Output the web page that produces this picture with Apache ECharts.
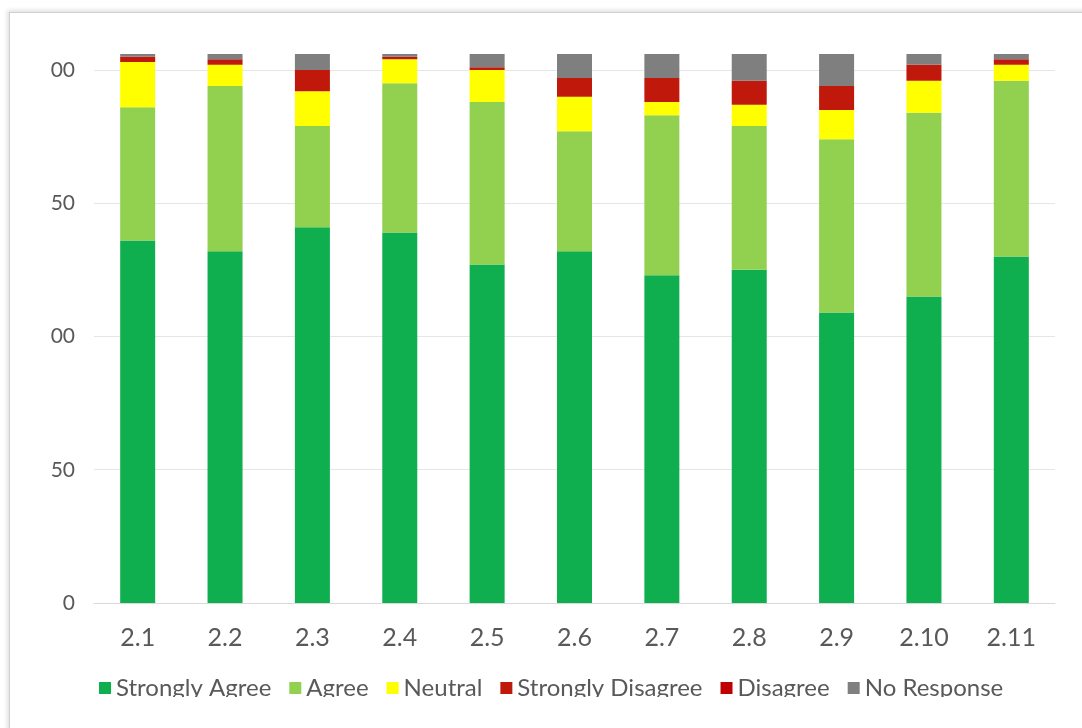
<!DOCTYPE html>
<html>
<head>
<meta charset="utf-8">
<script src="https://cdn.jsdelivr.net/npm/echarts@6/dist/echarts.min.js"></script>
<style>
html,body{margin:0;padding:0;background:#fff;}
#frame{position:absolute;left:9px;top:12px;width:1120px;height:760px;border:1px solid #cfcfcf;box-shadow:-2px -2px 4px rgba(0,0,0,0.12);background:#fff;}
#chart{position:absolute;left:0;top:0;width:1082px;height:728px;}
#clip{position:absolute;left:10px;top:697px;width:1072px;height:31px;background:#fff;}
</style>
</head>
<body>
<div id="frame"></div>
<div id="chart"></div>
<div id="clip"></div>
<script>
const categories = ['2.1','2.2','2.3','2.4','2.5','2.6','2.7','2.8','2.9','2.10','2.11'];
const stronglyAgree    = [136,132,141,139,127,132,123,125,109,115,130];
const agree            = [50, 62, 38, 56, 61, 45, 60, 54, 65, 69, 66];
const neutral          = [17, 8,  13, 9,  12, 13, 5,  8,  11, 12, 6];
const stronglyDisagree = [2,  2,  8,  1,  1,  7,  9,  9,  9,  6,  2];
const disagree         = [0,  0,  0,  0,  0,  0,  0,  0,  0,  0,  0];
const noResponse       = [1,  2,  6,  1,  5,  9,  9,  10, 12, 4,  2];

const FONT = "Lato,'Open Sans',sans-serif";
const names = ['Strongly Agree','Agree','Neutral','Strongly Disagree','Disagree','No Response'];
const colors = ['#0FAF50','#92D050','#FFFF00','#C0180A','#C00000','#7F7F7F'];
const datas = [stronglyAgree, agree, neutral, stronglyDisagree, disagree, noResponse];

const chart = echarts.init(document.getElementById('chart'), null, {renderer:'canvas'});
chart.setOption({
  animation:false,
  backgroundColor:'transparent',
  grid:{left:94, right:27, top:54, bottom:125},
  legend:{
    data:names, left:94, top:671, itemWidth:12, itemHeight:12, itemGap:18, icon:'rect',
    textStyle:{fontFamily:FONT, fontSize:24, color:'#595959'}
  },
  xAxis:{
    type:'category', data:categories,
    axisLine:{show:true, lineStyle:{color:'#d9d9d9'}},
    axisTick:{show:false},
    axisLabel:{fontFamily:FONT, fontSize:25, color:'#595959', margin:22}
  },
  yAxis:{
    type:'value', min:0, max:206, interval:50,
    axisLine:{show:false}, axisTick:{show:false},
    splitLine:{show:true, showMaxLine:false, lineStyle:{color:'#e6e6e6'}},
    axisLabel:{showMaxLabel:false, fontFamily:FONT, fontSize:21, color:'#595959', margin:19,
      formatter:function(v){ return v===0 ? '0' : String(v).slice(-2); }}
  },
  series: names.map((n,i)=>({
    name:n, type:'bar', stack:'total', barWidth:35,
    itemStyle:{color:colors[i]},
    data:datas[i]
  }))
});
</script>
</body>
</html>
